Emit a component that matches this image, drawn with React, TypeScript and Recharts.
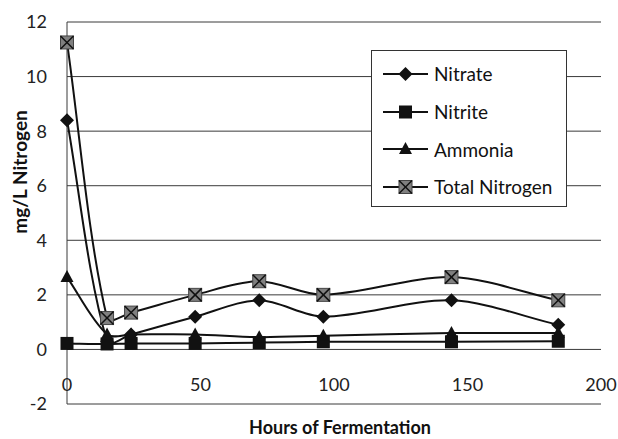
import { LineChart, Line, XAxis, YAxis, CartesianGrid, Label } from "recharts";

const hours = [0, 15, 24, 48, 72, 96, 144, 184];
const nitrate = [8.4, 0.3, 0.55, 1.2, 1.8, 1.2, 1.8, 0.9];
const nitrite = [0.22, 0.2, 0.22, 0.22, 0.25, 0.28, 0.28, 0.3];
const ammonia = [2.65, 0.55, 0.55, 0.55, 0.45, 0.5, 0.6, 0.6];
const totalNitrogen = [11.25, 1.15, 1.35, 2.0, 2.5, 2.0, 2.65, 1.8];
const yTicks = [-2, 0, 2, 4, 6, 8, 10, 12];
const xTicks = [0, 50, 100, 150, 200];

const data = hours.map((h, i) => ({
  h,
  nitrate: nitrate[i],
  nitrite: nitrite[i],
  ammonia: ammonia[i],
  total: totalNitrogen[i],
}));

const FONT = "Lato, 'Open Sans', sans-serif";

// Excel-like smoothing: tangent from neighbours, control length scaled by segment length
const excelCurve = (context: any) => {
  let pts: number[][] = [];
  const tangent = (a: number[], b: number[]) => {
    const dx = b[0] - a[0];
    const dy = b[1] - a[1];
    const len = Math.hypot(dx, dy) || 1;
    return [dx / len, dy / len];
  };
  return {
    areaStart() {},
    areaEnd() {},
    lineStart() {
      pts = [];
    },
    point(x: number, y: number) {
      pts.push([+x, +y]);
    },
    lineEnd() {
      if (!pts.length) return;
      context.moveTo(pts[0][0], pts[0][1]);
      const k = 0.3;
      for (let i = 1; i < pts.length; i++) {
        const p0 = pts[i - 2] || pts[i - 1];
        const p1 = pts[i - 1];
        const p2 = pts[i];
        const p3 = pts[i + 1] || pts[i];
        const seg = Math.hypot(p2[0] - p1[0], p2[1] - p1[1]);
        const t1 = tangent(p0, p2);
        const t2 = tangent(p1, p3);
        context.bezierCurveTo(
          p1[0] + t1[0] * seg * k,
          p1[1] + t1[1] * seg * k,
          p2[0] - t2[0] * seg * k,
          p2[1] - t2[1] * seg * k,
          p2[0],
          p2[1]
        );
      }
    },
  };
};

type Shape = "diamond" | "square" | "triangle" | "xsquare";

const Marker = ({ cx, cy, shape }: { cx: number; cy: number; shape: Shape }) => {
  if (shape === "diamond") {
    const r = 7;
    return (
      <polygon
        points={`${cx},${cy - r} ${cx + r},${cy} ${cx},${cy + r} ${cx - r},${cy}`}
        fill="#111"
      />
    );
  }
  if (shape === "square") {
    return <rect x={cx - 6.5} y={cy - 6.5} width={13} height={13} fill="#111" />;
  }
  if (shape === "triangle") {
    return (
      <polygon
        points={`${cx},${cy - 7} ${cx + 6.5},${cy + 5} ${cx - 6.5},${cy + 5}`}
        fill="#111"
      />
    );
  }
  const s = 6.5;
  return (
    <g>
      <rect x={cx - s} y={cy - s} width={2 * s} height={2 * s} fill="#808080" stroke="#444" strokeWidth={1} />
      <line x1={cx - s} y1={cy - s} x2={cx + s} y2={cy + s} stroke="#111" strokeWidth={1.5} />
      <line x1={cx - s} y1={cy + s} x2={cx + s} y2={cy - s} stroke="#111" strokeWidth={1.5} />
    </g>
  );
};

const seriesList: { key: string; name: string; shape: Shape }[] = [
  { key: "nitrate", name: "Nitrate", shape: "diamond" },
  { key: "nitrite", name: "Nitrite", shape: "square" },
  { key: "ammonia", name: "Ammonia", shape: "triangle" },
  { key: "total", name: "Total Nitrogen", shape: "xsquare" },
];

const makeDot = (shape: Shape) => (props: any) => {
  const { cx, cy, index } = props;
  return <Marker key={`${shape}-${index}`} cx={cx} cy={cy} shape={shape} />;
};

const LegendBox = () => (
  <div
    style={{
      position: "absolute",
      left: 371,
      top: 50,
      width: 194,
      height: 151,
      border: "1px solid #333",
      background: "#fff",
      paddingTop: 4,
    }}
  >
    {seriesList.map((s) => (
      <div key={s.key} style={{ display: "flex", alignItems: "center", height: 37.7 }}>
        <svg width={62} height={20}>
          <line x1={11} y1={10} x2={56} y2={10} stroke="#111" strokeWidth={2} />
          <Marker cx={33.5} cy={10} shape={s.shape} />
        </svg>
        <span style={{ fontFamily: FONT, fontSize: 19, color: "#111" }}>{s.name}</span>
      </div>
    ))}
  </div>
);

const XTick = (props: any) => {
  const { x, y, payload } = props;
  return (
    <text x={x} y={y} dy={-21} textAnchor="middle" fontFamily={FONT} fontSize={18} fill="#222">
      {payload.value}
    </text>
  );
};

export default function App() {
  return (
    <div style={{ position: "absolute", left: 0, top: 0, width: 618, height: 439, background: "#fff" }}>
      <LineChart
        width={618}
        height={439}
        data={data}
        margin={{ top: 22, right: 17, bottom: 0, left: 7 }}
      >
        <CartesianGrid vertical={false} stroke="#3a3a3a" strokeWidth={1} />
        <XAxis
          dataKey="h"
          type="number"
          domain={[0, 200]}
          ticks={xTicks}
          axisLine={false}
          tickLine={false}
          height={35}
          tick={<XTick />}
        >
          <Label
            content={() => (
              <text
                x={340}
                y={427}
                textAnchor="middle"
                dominantBaseline="central"
                fontFamily={FONT}
                fontWeight="bold"
                fontSize={18}
                fill="#111"
              >
                Hours of Fermentation
              </text>
            )}
          />
        </XAxis>
        <YAxis
          type="number"
          domain={[-2, 12]}
          ticks={yTicks}
          width={60}
          axisLine={{ stroke: "#3a3a3a", strokeWidth: 1 }}
          tickLine={false}
          tickMargin={14}
          tick={{ fontFamily: FONT, fontSize: 18, fill: "#222" }}
        >
          <Label
            content={() => {
              const cy = 172;
              return (
                <text
                  x={19}
                  y={cy}
                  transform={`rotate(-90, 19, ${cy})`}
                  textAnchor="middle"
                  dominantBaseline="central"
                  fontFamily={FONT}
                  fontWeight="bold"
                  fontSize={19}
                  fill="#111"
                >
                  mg/L Nitrogen
                </text>
              );
            }}
          />
        </YAxis>
        {seriesList.map((s) => (
          <Line
            key={s.key}
            dataKey={s.key}
            name={s.name}
            type={excelCurve as any}
            stroke="#111"
            strokeWidth={2}
            dot={makeDot(s.shape)}
            activeDot={false}
            isAnimationActive={false}
          />
        ))}
      </LineChart>
      <LegendBox />
    </div>
  );
}
